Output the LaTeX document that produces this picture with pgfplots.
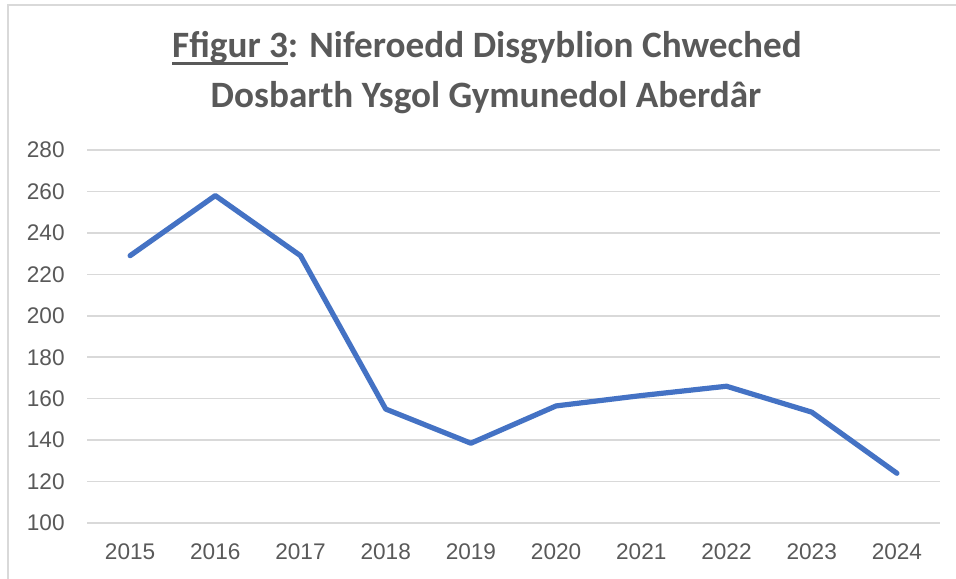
\documentclass[border=0pt]{standalone}
\usepackage{pgfplots}
\pgfplotsset{compat=1.18}
\usepackage{fontspec}
\setmainfont{Liberation Sans}
\newfontfamily\titlefont{Carlito}
\definecolor{txt}{HTML}{595959}
\definecolor{gridc}{HTML}{D9D9D9}
\definecolor{linec}{HTML}{4472C4}
\newcommand\ul[1]{\setbox0\hbox{#1}\rlap{\rule[-3.6pt]{\wd0}{1.1pt}}\box0}
\begin{document}
\begin{tikzpicture}
\begin{scope}[x=0.5pt,y=0.5pt]
\useasboundingbox (0,0) rectangle (956,578);
\fill[white] (0,0) rectangle (956,578);
\draw[gridc,line width=1pt] (8,-20) -- (8,572.5) -- (970,572.5);
\node[text=txt,font=\titlefont\fontsize{18.6}{22}\selectfont\bfseries] at (487,530) {\ul{Ffigur 3}: Niferoedd Disgyblion Chweched};
\node[text=txt,font=\titlefont\fontsize{18.6}{22}\selectfont\bfseries] at (486,480) {Dosbarth Ysgol Gymunedol Aberdâr};
\end{scope}
\begin{axis}[
  at={(43.75pt,27.5pt)}, anchor=south west,
  scale only axis, width=426pt, height=186.5pt,
  xmin=-0.5, xmax=9.5, ymin=100, ymax=280,
  ytick={100,120,...,280},
  xtick={0,...,9},
  xticklabels={2015,2016,2017,2018,2019,2020,2021,2022,2023,2024},
  axis line style={draw=none},
  major tick length=0pt,
  ymajorgrids, xmajorgrids=false,
  grid style={draw=gridc,line width=0.75pt},
  tick label style={text=txt,font=\fontsize{11.3}{13}\selectfont},
  yticklabel style={anchor=east,inner sep=0pt,xshift=-11.25pt},
  xticklabel style={anchor=north,inner sep=0pt,yshift=-10pt},
  /pgf/number format/assume math mode=true,
  clip=false,
]
\addplot[linec, line width=2.6pt, line join=round, line cap=round] coordinates {
(0,229) (1,258) (2,229) (3,155) (4,138.5) (5,156.5) (6,161.5) (7,166) (8,153.5) (9,124)
};
\end{axis}
\end{tikzpicture}
\end{document}
